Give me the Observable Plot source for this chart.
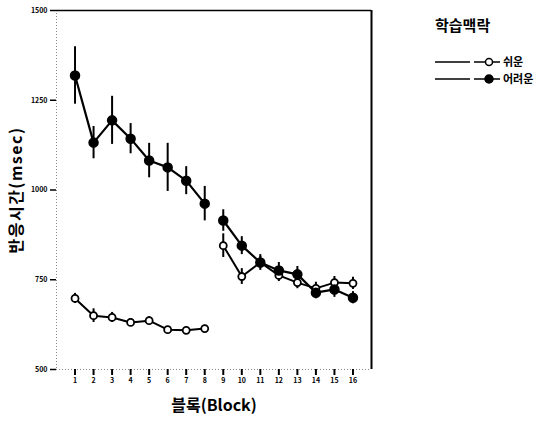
<!DOCTYPE html>
<html><head><meta charset="utf-8">
<script src="https://cdn.jsdelivr.net/npm/d3@7"></script>
<script src="https://cdn.jsdelivr.net/npm/@observablehq/plot@0.6"></script>
<style>
body{margin:0;background:#fff;font-family:"Noto Sans CJK KR",sans-serif;}
#wrap{position:relative;width:549px;height:430px;overflow:hidden;}
#chart{position:absolute;left:0;top:0;}
#legend{position:absolute;left:400px;top:0;}
</style></head><body><div id="wrap"><div id="chart"></div><div id="legend"></div></div>
<script>
const blocks = [1,2,3,4,5,6,7,8,9,10,11,12,13,14,15,16];
const seriesNames = ["쉬운", "어려운"];
const easyRT  = [698,650,645,631,636,611,609,614,845,759,798,762,742,726,742,740];
const easyErr = [14,19,14,11,11,9,9,9,33,22,17,17,17,17,17,17];
const hardRT  = [1319,1132,1194,1143,1082,1063,1026,962,915,845,798,776,765,714,723,700];
const hardErr = [80,45,67,42,48,67,39,48,30,25,22,22,22,17,22,17];
const yTicks = [500,750,1000,1250,1500];
const legendTitle = "학습맥락";
const xLabel = "블록(Block)";
const yLabel = "반응시간(msec)";

const data = blocks.flatMap((b, i) => [
  {block: b, series: seriesNames[0], rt: easyRT[i], err: easyErr[i]},
  {block: b, series: seriesNames[1], rt: hardRT[i], err: hardErr[i]}
]);
const seg = d => d.series + (d.block <= 8 ? "-a" : "-b");
const easy = data.filter(d => d.series === seriesNames[0]);
const hard = data.filter(d => d.series === seriesNames[1]);
const font = "'Noto Sans CJK KR', 'DejaVu Sans', sans-serif";

const chart = Plot.plot({
  width: 400, height: 430,
  marginLeft: 56, marginRight: 29, marginTop: 10, marginBottom: 61,
  style: {fontFamily: font, fontSize: "7px", fontWeight: "bold", color: "#000", background: "#fff"},
  x: {domain: [0, 17], label: null},
  y: {domain: [500, 1500], label: null},
  marks: [
    Plot.ruleX([0], {stroke: "#888", strokeDasharray: "1,2"}),
    Plot.ruleY([500], {stroke: "#888", strokeDasharray: "1,2"}),
    Plot.ruleY([1500], {stroke: "#000", strokeWidth: 1.5}),
    Plot.ruleX([17], {stroke: "#000", strokeWidth: 2}),
    Plot.axisX({ticks: blocks, tickFormat: d => String(d), tickSize: 6, tickPadding: 3, strokeWidth: 2, label: null}),
    Plot.axisY({ticks: yTicks, tickFormat: d => String(d), tickSize: 6, tickPadding: 3, strokeWidth: 1.5, label: null}),
    Plot.ruleX(data, {x: "block", y1: d => d.rt - d.err, y2: d => d.rt + d.err, stroke: "#000", strokeWidth: 2}),
    Plot.line(easy, {x: "block", y: "rt", z: seg, stroke: "#000", strokeWidth: 2}),
    Plot.line(hard, {x: "block", y: "rt", z: seg, stroke: "#000", strokeWidth: 2.2}),
    Plot.dot(easy, {x: "block", y: "rt", r: 3.5, fill: "#fff", stroke: "#000", strokeWidth: 1.8}),
    Plot.dot(hard, {x: "block", y: "rt", r: 4.5, fill: "#000", stroke: "#000"}),
    Plot.text([yLabel], {frameAnchor: "left", textAnchor: "middle", dx: -40, rotate: -90, fontSize: 16, fontWeight: "bold", fill: "#000"}),
    Plot.text([xLabel], {frameAnchor: "bottom", textAnchor: "middle", dy: 41, fontSize: 16, fontWeight: "bold", fill: "#000"})
  ]
});
d3.select(chart).selectAll("text").filter(function() { return this.textContent === yLabel; })
  .style("letter-spacing", "1.5px");
document.getElementById("chart").appendChild(chart);

// legend
const lg = d3.select("#legend").append("svg").attr("width", 149).attr("height", 120)
  .style("font-family", font);
lg.append("text").attr("x", 35).attr("y", 31).attr("font-size", 15).attr("font-weight", "bold").text(legendTitle);
seriesNames.forEach((name, i) => {
  const y = 62 + i * 17;
  lg.append("line").attr("x1", 35).attr("x2", 70).attr("y1", y).attr("y2", y).attr("stroke", "#000").attr("stroke-width", 1.5);
  lg.append("line").attr("x1", 74).attr("x2", 100).attr("y1", y).attr("y2", y).attr("stroke", "#000").attr("stroke-width", 1.5);
  lg.append("circle").attr("cx", 89).attr("cy", y).attr("r", i === 0 ? 3.5 : 4)
    .attr("fill", i === 0 ? "#fff" : "#000").attr("stroke", "#000").attr("stroke-width", 1.5);
  lg.append("text").attr("x", 103).attr("y", y + 4).attr("font-size", 11).attr("font-weight", "bold").text(name);
});
</script></body></html>
